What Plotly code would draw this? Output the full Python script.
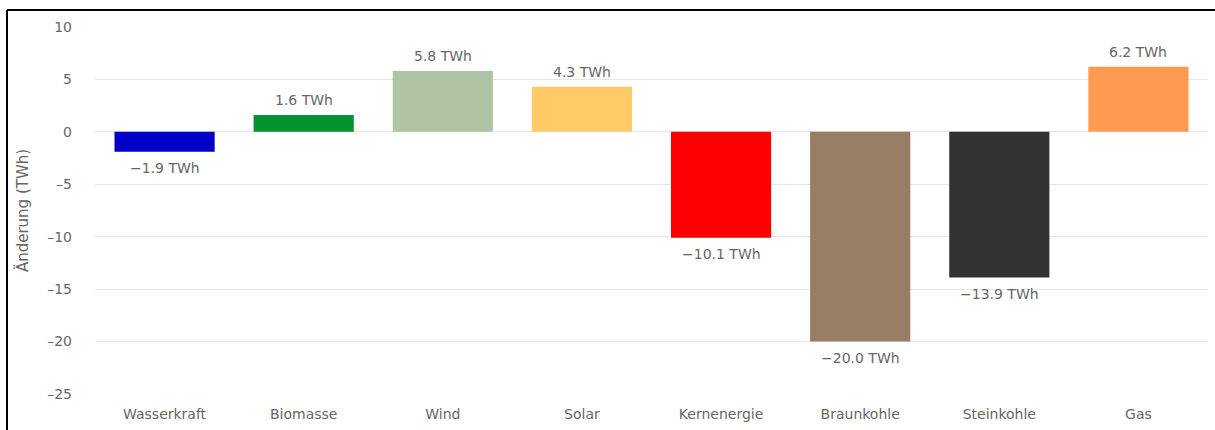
import plotly.graph_objects as go

# Change in net electricity generation by source
categories = ["Wasserkraft", "Biomasse", "Wind", "Solar",
              "Kernenergie", "Braunkohle", "Steinkohle", "Gas"]
values = [-1.9, 1.6, 5.8, 4.3, -10.1, -20.0, -13.9, 6.2]
bar_colors = ["#0000c8", "#00942f", "#afc4a5", "#ffcb66",
              "#ff0000", "#967d64", "#333333", "#ff9a50"]
y_ticks = [10, 5, 0, -5, -10, -15, -20, -25]

W, H = 1215, 430
M = dict(l=95, r=7, t=27, b=36)
FONT = "DejaVu Sans, Verdana, sans-serif"
GREY = "#666666"

fig = go.Figure(
    go.Bar(
        x=categories,
        y=values,
        marker=dict(color=bar_colors, line=dict(width=0)),
        hoverinfo="skip",
    )
)

# value labels: above positive bars, below negative ones
for cat, val in zip(categories, values):
    fig.add_annotation(
        x=cat, y=val,
        text=f"{val:.1f} TWh".replace("-", "\u2212"),
        showarrow=False,
        yanchor="middle",
        yshift=15 if val >= 0 else -16,
        font=dict(family=FONT, size=14, color=GREY),
    )

# frame line along top and left edges of the page
pw = W - M["l"] - M["r"]
ph = H - M["t"] - M["b"]
x_left = (7 - M["l"]) / pw
y_top = (ph + M["t"] - 10) / ph
fig.add_shape(type="line", xref="paper", yref="paper",
              x0=x_left, x1=(W - M["l"]) / pw, y0=y_top, y1=y_top,
              line=dict(color="#000000", width=2))
fig.add_shape(type="line", xref="paper", yref="paper",
              x0=x_left, x1=x_left, y0=y_top, y1=-M["b"] / ph - 0.01,
              line=dict(color="#000000", width=2))

fig.update_layout(
    width=W, height=H,
    margin=M,
    paper_bgcolor="white",
    plot_bgcolor="white",
    bargap=0.28,
    showlegend=False,
    font=dict(family=FONT, size=14, color=GREY),
    xaxis=dict(
        showgrid=False, showline=False, zeroline=False,
        ticks="", ticklabelstandoff=10,
        tickfont=dict(family=FONT, size=14, color=GREY),
    ),
    yaxis=dict(
        range=[-25, 10],
        tickvals=y_ticks,
        ticktext=[str(v).replace("-", "\u2013") for v in y_ticks],
        showgrid=True, gridcolor="#e6e6e6", gridwidth=1,
        zeroline=False, showline=False, ticks="",
        ticklabelstandoff=22,
        tickfont=dict(family=FONT, size=14, color=GREY),
        title=dict(text="Änderung (TWh)", standoff=14,
                   font=dict(family=FONT, size=15, color=GREY)),
    ),
)

fig.write_html("out.html")
